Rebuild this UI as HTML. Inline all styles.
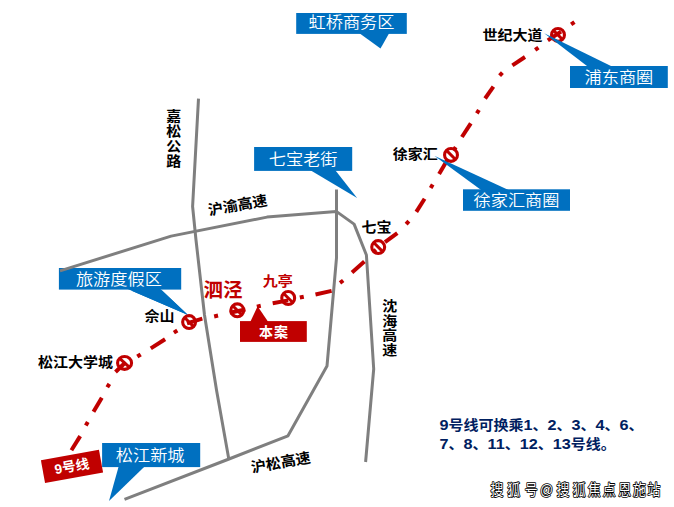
<!DOCTYPE html>
<html lang="zh-CN">
<head>
<meta charset="utf-8">
<title>9号线区位图</title>
<style>
html,body{margin:0;padding:0;background:#fff;}
body{width:674px;height:507px;overflow:hidden;}
svg{display:block;font-family:"Liberation Sans","Noto Sans CJK SC",sans-serif;}
</style>
</head>
<body>
<svg width="674" height="507" viewBox="0 0 674 507">
<rect width="674" height="507" fill="#fff"/>
<polygon points="188,315.1 126.58,288.6 159.94,288.6" fill="#0070c0"/><rect x="58.9" y="268" width="122.3" height="21.6" fill="#0070c0"/><text transform="translate(118.85 279.7) scale(1 0.95)" font-size="17.2" font-weight="350" fill="#fff" text-anchor="middle" dominant-baseline="central">旅游度假区</text>
<g fill="none" stroke="#7f7f7f" stroke-width="3" stroke-linejoin="round">
<path d="M198.5,98.6 L192.6,206.5 L196,240 L204.5,315 L216.5,390 L228.8,459"/>
<path d="M60,270.9 L171.1,236.1 L267,217.1 L336.3,211.4 L354.1,224.1 L366.4,255 L373.7,369 L365.6,462"/>
<path d="M336.5,189.5 L336.5,257.8 L327,366 L288,435.8 L229,459 L124.5,499.4"/>
</g>
<g stroke="#c00000" stroke-width="4" fill="none">
<line x1="71.4" y1="450.2" x2="80.2" y2="436.1"/>
<line x1="85.81" y1="425.54" x2="87.79" y2="422.06"/>
<line x1="93.5" y1="411.8" x2="101.8" y2="397.7"/>
<line x1="107.26" y1="387.31" x2="109.34" y2="383.89"/>
<line x1="115.5" y1="372" x2="125.6" y2="362.3"/>
<line x1="137.3" y1="356.56" x2="140.7" y2="354.44"/>
<line x1="150.8" y1="348.4" x2="165.1" y2="339.3"/>
<line x1="173.9" y1="332.66" x2="177.3" y2="330.54"/>
<line x1="187" y1="323.3" x2="202.3" y2="318.7"/>
<line x1="214.15" y1="316.45" x2="218.05" y2="315.55"/>
<line x1="229.7" y1="312.7" x2="245.4" y2="309.5"/>
<line x1="256.84" y1="306.62" x2="260.76" y2="305.78"/>
<line x1="272.7" y1="303.3" x2="288.2" y2="300.4"/>
<line x1="299.84" y1="297.52" x2="303.76" y2="296.68"/>
<line x1="315.5" y1="294.5" x2="331.6" y2="290.9"/>
<line x1="339.99" y1="282.89" x2="343.21" y2="280.51"/>
<line x1="352" y1="272.4" x2="364.4" y2="261.5"/>
<line x1="373" y1="252.33" x2="376" y2="249.67"/>
<line x1="385" y1="242.2" x2="397.3" y2="233.2"/>
<line x1="406.16" y1="224.08" x2="408.84" y2="221.12"/>
<line x1="416.3" y1="211.9" x2="424.6" y2="198.8"/>
<line x1="430.68" y1="188.02" x2="432.72" y2="184.58"/>
<line x1="439.1" y1="173.9" x2="447.3" y2="160"/>
<line x1="453.64" y1="150.49" x2="455.76" y2="147.11"/>
<line x1="461.9" y1="137" x2="470.8" y2="123.3"/>
<line x1="476.86" y1="113.41" x2="478.94" y2="109.99"/>
<line x1="485.1" y1="98.5" x2="493.4" y2="86.6"/>
<line x1="499.63" y1="75.56" x2="502.37" y2="72.64"/>
<line x1="512.4" y1="65.3" x2="525" y2="57"/>
<line x1="535.16" y1="49.85" x2="538.44" y2="47.55"/>
<line x1="547.8" y1="40.4" x2="561" y2="31.6"/>
<line x1="571.15" y1="24.44" x2="574.45" y2="22.16"/>
</g>
<polygon points="434.3,155.8 481.47,190.3 509.07,190.3" fill="#0070c0"/><rect x="463" y="189.3" width="107" height="21.5" fill="#0070c0"/><text transform="translate(516.5 200.55) scale(1 0.95)" font-size="17.2" font-weight="350" fill="#fff" text-anchor="middle" dominant-baseline="central">徐家汇商圈</text>
<g stroke="#c00000" fill="none"><ellipse cx="124.57" cy="362.9" rx="7.0" ry="6.45" stroke-width="3.1"/><line x1="119.62" y1="358.34" x2="129.52" y2="367.46" stroke-width="3.0"/></g>
<g stroke="#c00000" fill="none"><ellipse cx="189.1" cy="322.1" rx="6.45" ry="6.45" stroke-width="3.1"/><line x1="184.54" y1="317.54" x2="193.66" y2="326.66" stroke-width="3.0"/></g>
<g stroke="#c00000" fill="none"><ellipse cx="237.3" cy="310.3" rx="6.45" ry="6.45" stroke-width="3.1"/><line x1="232.74" y1="305.74" x2="241.86" y2="314.86" stroke-width="3.0"/></g>
<g stroke="#c00000" fill="none"><ellipse cx="288.2" cy="298" rx="6.45" ry="6.45" stroke-width="3.1"/><line x1="283.64" y1="293.44" x2="292.76" y2="302.56" stroke-width="3.0"/></g>
<g stroke="#c00000" fill="none"><ellipse cx="378.2" cy="247.1" rx="6.45" ry="6.45" stroke-width="3.1"/><line x1="373.64" y1="242.54" x2="382.76" y2="251.66" stroke-width="3.0"/></g>
<g stroke="#c00000" fill="none"><ellipse cx="451" cy="154.9" rx="6.45" ry="6.45" stroke-width="3.1"/><line x1="446.44" y1="150.34" x2="455.56" y2="159.46" stroke-width="3.0"/></g>
<g stroke="#c00000" fill="none"><ellipse cx="558" cy="34.9" rx="6.45" ry="6.45" stroke-width="3.1"/><line x1="553.44" y1="30.34" x2="562.56" y2="39.46" stroke-width="3.0"/></g>
<polygon points="188,315.1 131,290.5 162,290.5" fill="#0070c0"/>
<polygon points="380.5,48.6 359.14,32.9 389.26,32.9" fill="#0070c0"/><rect x="296.2" y="13" width="110.6" height="20.9" fill="#0070c0"/><text transform="translate(351.5 23.05) scale(1 0.95)" font-size="17.2" font-weight="350" fill="#fff" text-anchor="middle" dominant-baseline="central">虹桥商务区</text>
<polygon points="357.1,198.1 310.03,169.9 335.12,169.9" fill="#0070c0"/><rect x="254.1" y="147" width="98.1" height="23.9" fill="#0070c0"/><text transform="translate(303.15 159.65) scale(1 0.95)" font-size="17.2" font-weight="350" fill="#fff" text-anchor="middle" dominant-baseline="central">七宝老街</text>
<polygon points="544.2,33.3 588.31,67 613.04,67" fill="#0070c0"/><rect x="570" y="66" width="97.8" height="22" fill="#0070c0"/><text transform="translate(618.9 77.3) scale(1 0.95)" font-size="17.2" font-weight="350" fill="#fff" text-anchor="middle" dominant-baseline="central">浦东商圈</text>
<polygon points="109,501.1 118.78,466.1 145.13,466.1" fill="#0070c0"/><rect x="102.1" y="443" width="98.1" height="24.1" fill="#0070c0"/><text transform="translate(150.15 455.65) scale(1 0.95)" font-size="17.2" font-weight="350" fill="#fff" text-anchor="middle" dominant-baseline="central">松江新城</text>
<polygon points="257.6,306.3 250.23,322.1 268.28,322.1" fill="#c00000"/><rect x="240" y="321.1" width="66.8" height="20.8" fill="#c00000"/><text transform="translate(273.9 332.2)" font-size="14" font-weight="bold" fill="#fff" text-anchor="middle" dominant-baseline="central" letter-spacing="1">本案</text>
<g transform="rotate(-10.3 72.05 466.75)"><rect x="42.55" y="454.9" width="59" height="23.1" fill="#c00000"/><text x="71.9" y="466.6" font-size="13.6" font-weight="bold" fill="#fff" text-anchor="middle" dominant-baseline="central">9号线</text></g>
<text transform="translate(482.5 40) scale(1 0.92)" font-size="15" font-weight="bold" fill="#000" text-anchor="start">世纪大道</text>
<text transform="translate(392.8 158.5) scale(1 0.92)" font-size="15" font-weight="bold" fill="#000" text-anchor="start">徐家汇</text>
<text transform="translate(361.4 232) scale(1 0.92)" font-size="15" font-weight="bold" fill="#000" text-anchor="start">七宝</text>
<text transform="translate(144.6 320.8) scale(1 0.92)" font-size="15" font-weight="bold" fill="#000" text-anchor="start">佘山</text>
<text transform="translate(38 367) scale(1 0.92)" font-size="15" font-weight="bold" fill="#000" text-anchor="start">松江大学城</text>
<text transform="translate(203.6 297)" font-size="19.5" font-weight="bold" fill="#c00000" text-anchor="start">泗泾</text>
<text transform="translate(262.8 285.7) scale(1 0.92)" font-size="15" font-weight="bold" fill="#c00000" text-anchor="start">九亭</text>
<text transform="scale(1 0.92)" x="173.8 173.8 173.8 173.8" y="131.85 147.99 164.13 180.27" font-size="15" font-weight="bold" fill="#000" text-anchor="middle">嘉松公路</text>
<text transform="scale(1 0.92)" x="389.7 389.7 389.7 389.7" y="337.83 353.97 370.11 386.25" font-size="15" font-weight="bold" fill="#000" text-anchor="middle">沈海高速</text>
<text transform="translate(209 215.4) rotate(-9.7) scale(1 0.97)" font-size="15" font-weight="bold" fill="#000" text-anchor="start">沪渝高速</text>
<text transform="translate(252.1 472.7) rotate(-9.8) scale(1 0.97)" font-size="15" font-weight="bold" fill="#000" text-anchor="start">沪松高速</text>
<text transform="translate(439.6 430.3) scale(1 0.92)" font-size="15" font-weight="bold" fill="#002060" text-anchor="start"><tspan font-size="16.2">9</tspan>号线可换乘<tspan font-size="16.2">1</tspan>、<tspan font-size="16.2">2</tspan>、<tspan font-size="16.2">3</tspan>、<tspan font-size="16.2">4</tspan>、<tspan font-size="16.2">6</tspan>、</text>
<text transform="translate(439.6 448.5) scale(1 0.92)" font-size="15" font-weight="bold" fill="#002060" text-anchor="start"><tspan font-size="16.2">7</tspan>、<tspan font-size="16.2">8</tspan>、<tspan font-size="16.2">11</tspan>、<tspan font-size="16.2">12</tspan>、<tspan font-size="16.2">13</tspan>号线。</text>
<text transform="translate(0 495.1) scale(0.88 1)" x="564.8 583.6 603.6 621.2 639.8 658.2 675.1 692.3 709.9 726.7 743.1" text-anchor="middle" font-size="14.6" font-weight="400" fill="#fff" stroke="#000" stroke-width="1.7" paint-order="stroke" stroke-linejoin="round">搜狐号@搜狐焦点恩施站</text>
</svg>
</body>
</html>
